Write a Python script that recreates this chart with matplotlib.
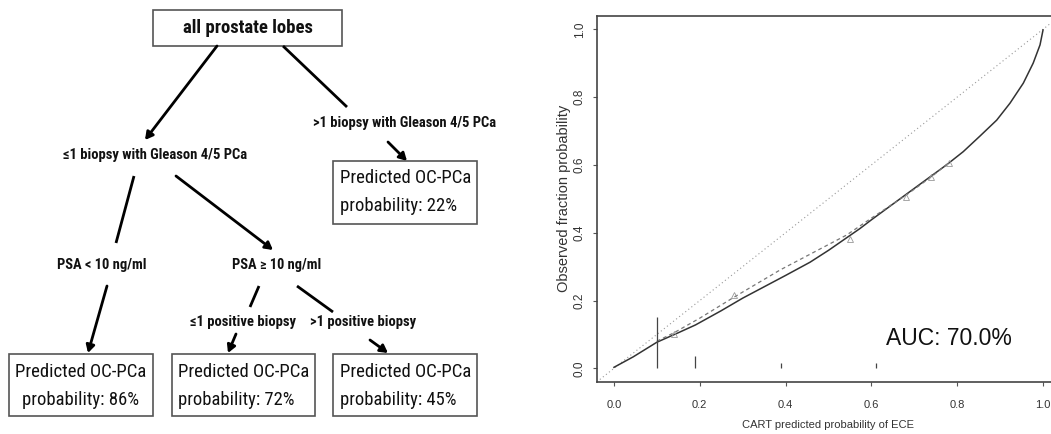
import matplotlib
matplotlib.use("Agg")
import matplotlib.pyplot as plt
from matplotlib import font_manager
from matplotlib.patches import Rectangle, FancyArrowPatch

# ---------------- data ----------------
root_label = "all prostate lobes"
split1_labels = ["≤1 biopsy with Gleason 4/5 PCa", ">1 biopsy with Gleason 4/5 PCa"]
split2_labels = ["PSA < 10 ng/ml", "PSA ≥ 10 ng/ml"]
split3_labels = ["≤1 positive biopsy", ">1 positive biopsy"]
leaf_probs = [22, 86, 72, 45]  # % predicted OC-PCa

# calibration curve (solid)
cal_x = [0.0, 0.045, 0.10, 0.15, 0.19, 0.25, 0.30, 0.40, 0.457, 0.50, 0.573, 0.60,
         0.683, 0.737, 0.775, 0.814, 0.853, 0.892, 0.923, 0.954, 0.977, 0.993, 1.0]
cal_y = [0.003, 0.034, 0.077, 0.105, 0.128, 0.170, 0.207, 0.274, 0.313, 0.348, 0.412, 0.438,
         0.515, 0.565, 0.600, 0.639, 0.685, 0.732, 0.782, 0.841, 0.900, 0.954, 0.998]
# nonparametric (dashed) curve
np_x = [0.10, 0.14, 0.20, 0.28, 0.387, 0.542, 0.60, 0.68, 0.74, 0.78]
np_y = [0.080, 0.105, 0.148, 0.210, 0.290, 0.393, 0.443, 0.510, 0.565, 0.606]
# grouped observations (triangles)
grp_x = [0.14, 0.28, 0.55, 0.68, 0.74, 0.78]
grp_y = [0.100, 0.215, 0.380, 0.505, 0.565, 0.605]
# distribution of predictions (spikes)
spike_x = [0.10, 0.19, 0.39, 0.61]
spike_h = [0.151, 0.036, 0.017, 0.015]
auc = 70.0

xticks = [0.0, 0.2, 0.4, 0.6, 0.8, 1.0]
yticks = [0.0, 0.2, 0.4, 0.6, 0.8, 1.0]

# ---------------- fonts ----------------
names = {f.name for f in font_manager.fontManager.ttflist}
narrow_candidates = [n for n in ["Liberation Sans Narrow", "Arial Narrow",
                                 "Roboto Condensed", "Open Sans Condensed",
                                 "Noto Sans Condensed"] if n in names]
narrow = narrow_candidates + ["Liberation Sans", "DejaVu Sans"]
arial = ["Liberation Sans", "DejaVu Sans"]

# ---------------- figure ----------------
W, H = 1051, 434
fig = plt.figure(figsize=(W / 100, H / 100), dpi=100)
fig.patch.set_facecolor("white")

dax = fig.add_axes([0, 0, 1, 1])
dax.set_xlim(0, W)
dax.set_ylim(H, 0)
dax.axis("off")

fit_list = []

def box(x0, y0, x1, y1):
    dax.add_patch(Rectangle((x0, y0), x1 - x0, y1 - y0, fill=False,
                            edgecolor="#555555", lw=1.2))

def line(p, q, head=False):
    if head:
        a = FancyArrowPatch(p, q, arrowstyle="-|>,head_length=4.5,head_width=2.5",
                            color="black", lw=2.0, shrinkA=0, shrinkB=0,
                            mutation_scale=1)
        dax.add_patch(a)
    else:
        dax.plot([p[0], q[0]], [p[1], q[1]], color="black", lw=2.0,
                 solid_capstyle="butt")

def label(x, y, s, width, weight="bold", ha="center", grow=1.08):
    t = dax.text(x, y, s, ha=ha, va="center", fontsize=10, fontweight=weight,
                 family=narrow, fontstretch="condensed", color="#111111")
    fit_list.append((t, width * grow))
    return t

# root
box(153, 10, 342, 46)
label(248, 28, root_label, 121)
line((217, 46), (145, 140), head=True)
line((283, 46), (347, 107))
label(155, 155, split1_labels[0], 171)
label(405, 123, split1_labels[1], 170)
line((388, 142), (407, 161), head=True)

# leaf 22%
box(333, 161, 477, 224)
label(340, 178, "Predicted OC-PCa", 126, weight="normal", ha="left", grow=1.04)
label(340, 206, f"probability: {leaf_probs[0]}%", 111, weight="normal", ha="left", grow=1.04)

line((134, 176), (116, 243))
line((176, 176), (273, 250), head=True)
label(102, 265, split2_labels[0], 83)
label(277, 265, split2_labels[1], 82)

line((107, 286), (88, 353), head=True)
line((259, 286), (250, 307))
line((297, 286), (333, 312))
label(243, 322, split3_labels[0], 99)
label(363, 322, split3_labels[1], 99)
line((236, 334), (228, 353), head=True)
line((370, 340), (388, 353), head=True)

# bottom leaves
box(9, 354, 153, 416)
label(81, 372, "Predicted OC-PCa", 126, weight="normal", grow=1.04)
label(81, 400, f"probability: {leaf_probs[1]}%", 111, weight="normal", grow=1.04)
box(172, 354, 315, 416)
label(178, 372, "Predicted OC-PCa", 126, weight="normal", ha="left", grow=1.04)
label(178, 400, f"probability: {leaf_probs[2]}%", 111, weight="normal", ha="left", grow=1.04)
box(333, 354, 477, 416)
label(340, 372, "Predicted OC-PCa", 126, weight="normal", ha="left", grow=1.04)
label(340, 400, f"probability: {leaf_probs[3]}%", 111, weight="normal", ha="left", grow=1.04)

# ---------------- calibration plot ----------------
left_px, right_px = 596.8, 1060.2
top_px, bot_px = 15.7, 381.9
ax = fig.add_axes([left_px / W, 1 - bot_px / H, (right_px - left_px) / W,
                   (bot_px - top_px) / H])
ax.set_xlim(-0.04, 1.04)
ax.set_ylim(-0.04, 1.04)
ax.patch.set_alpha(0)

ax.plot([-0.04, 1.04], [-0.04, 1.04], color="#999999", lw=0.8, ls=(0, (1, 2.5)))
ax.plot(cal_x, cal_y, color="#333333", lw=1.1)
ax.plot(np_x, np_y, color="#777777", lw=0.9, ls=(0, (3, 2.5)))
ax.plot(grp_x, grp_y, ls="none", marker="^", mfc="none", mec="#999999",
        ms=4, mew=0.6)
ax.vlines(spike_x, 0, spike_h, color="#444444", lw=0.9)
ax.text(0.78, 0.089, f"AUC: {auc:.1f}%", fontsize=16.5, ha="center", va="center",
        family=arial, color="#111111")

for s in ["left", "bottom", "top"]:
    ax.spines[s].set_color("#444444")
    ax.spines[s].set_linewidth(1.2)
ax.spines["right"].set_visible(False)

ax.set_xticks(xticks)
ax.set_xticklabels([f"{v:.1f}" for v in xticks], fontsize=8, family=arial, color="#333333")
ax.set_yticks(yticks)
ax.set_yticklabels([f"{v:.1f}" for v in yticks], rotation=90, va="center",
                   fontsize=8.5, family=arial, color="#333333")
ax.tick_params(axis="both", length=3, width=0.8, color="#555555")
ax.tick_params(axis="x", pad=10)
ax.tick_params(axis="y", pad=5)
ax.set_xlabel("CART predicted probability of ECE", fontsize=8,
              family=arial, color="#333333", labelpad=7)
ax.set_ylabel("Observed fraction probability", fontsize=10.5,
              family=arial, color="#333333", labelpad=2)

# fit diagram text sizes to the measured widths
fig.canvas.draw()
r = fig.canvas.get_renderer()
for t, target in fit_list:
    w = t.get_window_extent(r).width
    t.set_fontsize(10 * target / w)

fig.savefig("out.png", dpi=100, facecolor="white")
